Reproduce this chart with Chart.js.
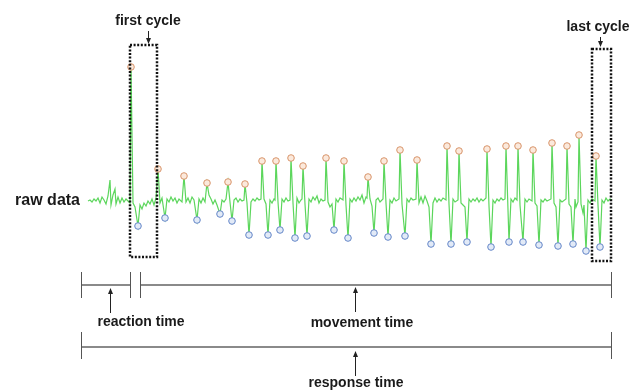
<!DOCTYPE html>
<html>
<head>
<meta charset="utf-8">
<script src="https://cdn.jsdelivr.net/npm/chart.js@4/dist/chart.umd.min.js"></script>
<style>
  html, body { margin: 0; padding: 0; background: #fff; }
  #wrap { width: 639px; height: 391px; position: relative; }
</style>
</head>
<body>
<div id="wrap"><canvas id="chart"></canvas></div>
<script>
// raw signal: [time, amplitude], baseline = 0
const rawSignal = [
  [88,0],[90,1],[92,-1],[94,2],[96,0],[98,3],[100,-2],[102,4],[104,1],[106,-3],[108,5],[110,21],[111,-4],
  [113,6],[115,12],[116,-3],[118,4],[120,-2],[122,3],[124,-1],[126,2],[128,0],[130,-2],
  [131,134],[133,-2],[135,-6],[138,-25],[140,-4],[142,-8],[144,-2],[146,-5],[148,0],[150,-3],[152,2],
  [154,-4],[156,3],[158,32],[160,-2],[162,3],[165,-17],[167,2],[169,-1],[171,4],[173,0],[175,3],
  [177,-2],[179,2],[182,-1],[184,25],[186,-1],[188,3],[190,-2],[192,4],[194,1],[197,-19],[199,2],
  [201,-2],[203,3],[205,-1],[207,18],[209,6],[211,2],[213,-3],[215,1],[217,-4],[220,-13],[222,1],
  [224,-1],[226,2],[228,19],[230,-1],[232,-20],[234,1],[236,3],[238,-1],[240,2],[242,0],[244,1],
  [245,17],[247,-2],[249,-34],[251,-1],[253,2],[255,0],[257,3],[259,1],[261,2],[262,40],[264,2],
  [266,-3],[268,-34],[270,1],[272,-2],[274,2],[275,1],[276,40],[278,-1],[280,-29],[282,2],[284,-1],
  [286,3],[288,0],[290,1],[291,43],[293,-2],[295,-37],[297,3],[299,-2],[301,1],[302,2],[303,35],
  [305,-3],[307,-35],[309,2],[311,-1],[313,4],[315,1],[317,5],[319,-2],[321,2],[323,0],[325,1],
  [326,43],[328,-1],[330,-6],[332,-3],[334,-29],[336,2],[338,-1],[340,3],[343,1],[344,40],[346,-4],
  [348,-37],[350,2],[352,-1],[354,3],[356,0],[358,4],[360,1],[362,6],[364,-2],[366,4],[367,3],
  [368,24],[370,2],[372,-5],[374,-32],[376,1],[378,3],[380,-1],[383,2],[384,40],[386,-2],[388,-36],
  [390,1],[392,-2],[394,3],[396,0],[399,2],[400,51],[402,-3],[405,-35],[407,2],[409,-1],[411,3],
  [413,1],[416,2],[417,41],[419,-2],[421,4],[423,-2],[425,5],[427,0],[429,-6],[431,-43],[433,-2],
  [435,3],[437,-1],[439,2],[441,0],[443,3],[446,1],[447,55],[449,-3],[451,-43],[453,2],[455,-1],
  [458,1],[459,50],[461,-2],[463,-4],[465,-6],[467,-41],[469,2],[471,-1],[473,2],[475,0],[477,3],
  [479,-1],[481,2],[483,0],[486,3],[487,52],[489,-5],[491,-46],[493,1],[495,-2],[497,2],[499,0],
  [501,3],[503,1],[505,2],[506,55],[509,-41],[511,2],[513,-1],[515,3],[517,1],[518,55],[520,-4],
  [523,-41],[525,2],[527,-1],[529,2],[532,0],[533,51],[535,-2],[537,-5],[539,-44],[541,1],[543,-1],
  [545,2],[547,0],[551,2],[552,58],[554,-2],[556,-6],[558,-45],[560,1],[562,-1],[566,2],[567,55],
  [569,-3],[571,-6],[573,-43],[575,2],[576,-6],[578,-1],[579,66],[581,-3],[583,-12],[584,-4],
  [586,-50],[588,1],[590,-2],[592,2],[595,0],[596,45],[598,-4],[600,-46],[602,1],[604,-2],[606,3],
  [608,0],[610,2],[612,1]
];

const peakTimes = [131,158,184,207,228,245,262,276,291,303,326,344,368,384,400,417,447,459,487,506,518,533,552,567,579,596];
const peakValues = [134,32,25,18,19,17,40,40,43,35,43,40,24,40,51,41,55,50,52,55,55,51,58,55,66,45];
const troughTimes = [138,165,197,220,232,249,268,280,295,307,334,348,374,388,405,431,451,467,491,509,523,539,558,573,586,600];
const troughValues = [-25,-17,-19,-13,-20,-34,-34,-29,-37,-35,-29,-37,-32,-36,-35,-43,-43,-41,-46,-41,-41,-44,-45,-43,-50,-46];

// phase boundaries on the time axis
const reactionTime = [81, 130];
const movementTime = [140, 611];
const responseTime = [81, 611];
const firstCycle = [130, 157];
const lastCycle = [592, 611];

const annotations = {
  id: 'annotations',
  afterDraw(c) {
    const ctx = c.ctx;
    const X = v => c.scales.x.getPixelForValue(v);
    const Y = v => c.scales.y.getPixelForValue(v);
    ctx.save();

    function arrow(x, y1, y2) { // y2 = tip
      ctx.strokeStyle = '#222';
      ctx.fillStyle = '#222';
      ctx.lineWidth = 1;
      ctx.beginPath();
      ctx.moveTo(x + 0.5, y1);
      ctx.lineTo(x + 0.5, y2);
      ctx.stroke();
      const d = y2 > y1 ? 1 : -1;
      ctx.beginPath();
      ctx.moveTo(x + 0.5, y2 + d);
      ctx.lineTo(x - 2, y2 - 5 * d);
      ctx.lineTo(x + 3, y2 - 5 * d);
      ctx.closePath();
      ctx.fill();
    }
    function box(t, top, bottom) {
      ctx.strokeStyle = '#111';
      ctx.lineWidth = 2.5;
      ctx.setLineDash([2, 1.6]);
      ctx.strokeRect(X(t[0]), Y(top), X(t[1]) - X(t[0]), Y(bottom) - Y(top));
      ctx.setLineDash([]);
    }
    function tick(x, y1, y2) {
      ctx.strokeStyle = '#555';
      ctx.lineWidth = 1;
      ctx.beginPath();
      ctx.moveTo(Math.round(x) + 0.5, y1);
      ctx.lineTo(Math.round(x) + 0.5, y2);
      ctx.stroke();
    }
    function span(t, y) {
      ctx.strokeStyle = '#8a8a8a';
      ctx.lineWidth = 2;
      ctx.beginPath();
      ctx.moveTo(X(t[0]), y);
      ctx.lineTo(X(t[1]), y);
      ctx.stroke();
    }
    function label(txt, x, y, size, align) {
      ctx.fillStyle = '#1a1a1a';
      ctx.font = 'bold ' + size + 'px "Liberation Sans", Arial, sans-serif';
      ctx.textAlign = align || 'center';
      ctx.textBaseline = 'middle';
      ctx.fillText(txt, x, y);
    }

    // cycle boxes
    box(firstCycle, 156, -56);
    box(lastCycle, 152, -60);
    label('first cycle', X(148), 21, 14);
    arrow(X(148), 31, 43);
    label('last cycle', X(598), 27, 14);
    arrow(X(600), 37, 46);
    label('raw data', X(80), Y(0), 16, 'right');

    // timelines
    const y1 = 285, y2 = 347;
    span(reactionTime, y1);
    span(movementTime, y1);
    [reactionTime[0], reactionTime[1], movementTime[0], movementTime[1]].forEach(t => tick(X(t), 272, 298));
    arrow(X(110), 313, 289);
    label('reaction time', X(141), 322, 14);
    arrow(X(355), 312, 288);
    label('movement time', X(362), 323, 14);

    span(responseTime, y2);
    responseTime.forEach(t => tick(X(t), 332, 359));
    arrow(X(355), 376, 352);
    label('response time', X(356), 383, 14);

    ctx.restore();
  }
};

new Chart(document.getElementById('chart'), {
  type: 'line',
  data: {
    datasets: [
      {
        data: rawSignal.map(p => ({ x: p[0], y: p[1] })),
        borderColor: '#5cd65c',
        borderWidth: 1.2,
        pointRadius: 0,
        tension: 0,
        order: 3
      },
      {
        data: peakTimes.map((t, i) => ({ x: t, y: peakValues[i] })),
        showLine: false,
        pointRadius: 3.3,
        pointBorderWidth: 1,
        pointBorderColor: '#d8946a',
        pointBackgroundColor: '#fbe9dc',
        order: 1
      },
      {
        data: troughTimes.map((t, i) => ({ x: t, y: troughValues[i] })),
        showLine: false,
        pointRadius: 3.3,
        pointBorderWidth: 1,
        pointBorderColor: '#6486c8',
        pointBackgroundColor: '#e2eaf7',
        order: 2
      }
    ]
  },
  options: {
    responsive: true,
    maintainAspectRatio: false,
    animation: false,
    layout: { padding: 0, autoPadding: false },
    scales: {
      x: { type: 'linear', min: 0, max: 639, display: false },
      y: { min: -190, max: 201, display: false }
    },
    plugins: { legend: { display: false }, tooltip: { enabled: false } }
  },
  plugins: [annotations]
});
</script>
</body>
</html>
